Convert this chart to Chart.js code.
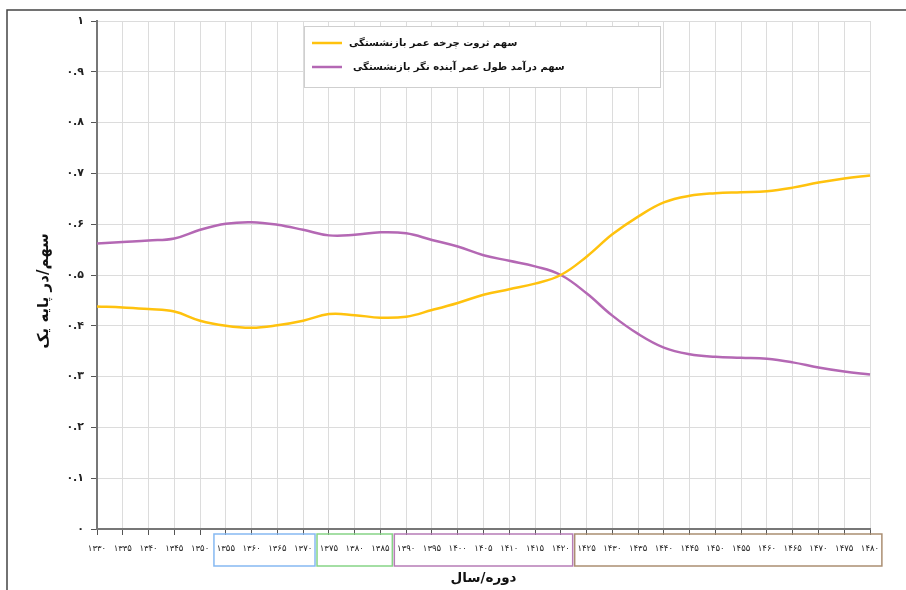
<!DOCTYPE html>
<html>
<head>
<meta charset="utf-8">
<script src="https://cdn.jsdelivr.net/npm/chart.js@4.4.1/dist/chart.umd.min.js"></script>
<style>
  html, body { margin: 0; padding: 0; background: #fff; }
  #wrap { width: 906px; height: 590px; }
</style>
</head>
<body>
<div id="wrap"><canvas id="shareChart" width="906" height="590"></canvas></div>
<script>
// categories (years, solar hijri)
const years = [1330, 1335, 1340, 1345, 1350, 1355, 1360, 1365, 1370, 1375, 1380,
               1385, 1390, 1395, 1400, 1405, 1410, 1415, 1420, 1425, 1430,
               1435, 1440, 1445, 1450, 1455, 1460, 1465, 1470, 1475, 1480];

// series values
const wealthShare = [0.438, 0.436, 0.433, 0.428, 0.410, 0.400, 0.396, 0.401, 0.410, 0.423, 0.421,
                     0.416, 0.418, 0.431, 0.445, 0.461, 0.472, 0.483, 0.500, 0.536, 0.580,
                     0.615, 0.643, 0.656, 0.661, 0.663, 0.665, 0.672, 0.682, 0.690, 0.696];
const incomeShare = [0.562, 0.565, 0.568, 0.572, 0.589, 0.601, 0.604, 0.599, 0.589, 0.578, 0.579,
                     0.584, 0.582, 0.569, 0.556, 0.539, 0.528, 0.517, 0.500, 0.464, 0.420,
                     0.384, 0.357, 0.344, 0.339, 0.337, 0.335, 0.328, 0.318, 0.310, 0.304];

const seriesNames = ['سهم ثروت چرخه عمر بازنشستگی', 'سهم درآمد طول عمر آینده نگر بازنشستگی'];
const seriesColors = ['#ffc20e', '#b468b4'];

// label groups boxed under the x axis
const groupFirst = [1355, 1375, 1390, 1425];
const groupLast  = [1370, 1385, 1420, 1480];
const groupColors = ['#86b9f2', '#86d486', '#b67cb6', '#ab8e72'];

const xTitle = 'دوره/سال';
const yTitle = 'سهم/در پایه یک';

const faDigits = '۰۱۲۳۴۵۶۷۸۹';
function toFa(s) {
    return String(s).replace(/[0-9]/g, d => faDigits[+d]);
}

const FONT = "'DejaVu Sans', sans-serif";

// extra drawing: frame, label boxes, legend, y title
const decorPlugin = {
    id: 'decor',
    beforeDraw(chart) {
        const ctx = chart.ctx;
        ctx.save();
        ctx.fillStyle = '#fff';
        ctx.fillRect(0, 0, chart.width, chart.height);
        ctx.restore();
    },
    afterDraw(chart) {
        const ctx = chart.ctx;
        const area = chart.chartArea;
        const xs = chart.scales.x;
        ctx.save();

        // outer frame (top and left edges)
        ctx.strokeStyle = '#444';
        ctx.lineWidth = 1.5;
        ctx.beginPath();
        ctx.moveTo(7, chart.height);
        ctx.lineTo(7, 10);
        ctx.lineTo(chart.width, 10);
        ctx.stroke();

        // coloured boxes round groups of year labels
        ctx.lineWidth = 1.5;
        for (let g = 0; g < groupFirst.length; g++) {
            const i0 = years.indexOf(groupFirst[g]);
            const i1 = years.indexOf(groupLast[g]);
            const left = xs.getPixelForValue(i0 - 0.5) + 1;
            const right = xs.getPixelForValue(i1 + 0.5) - 1;
            ctx.strokeStyle = groupColors[g];
            ctx.strokeRect(left, area.bottom + 5, right - left, 32);
        }

        // legend box
        const lx = 304, ly = 26, lw = 356, lh = 61;
        ctx.fillStyle = '#fff';
        ctx.fillRect(lx, ly, lw, lh);
        ctx.strokeStyle = '#cfcfcf';
        ctx.lineWidth = 1;
        ctx.strokeRect(lx + 0.5, ly + 0.5, lw, lh);
        chart.data.datasets.forEach((ds, i) => {
            const yy = ly + 17 + i * 24;
            ctx.strokeStyle = ds.borderColor;
            ctx.lineWidth = 2.5;
            ctx.beginPath();
            ctx.moveTo(lx + 8, yy);
            ctx.lineTo(lx + 38, yy);
            ctx.stroke();
            ctx.fillStyle = '#111';
            ctx.font = 'bold 10px ' + FONT;
            ctx.textAlign = 'left';
            ctx.textBaseline = 'middle';
            ctx.fillText(ds.label, lx + 45 + i * 4, yy);
        });

        // y axis title
        ctx.translate(44, 291);
        ctx.rotate(-Math.PI / 2);
        ctx.fillStyle = '#111';
        ctx.font = 'bold 15px ' + FONT;
        ctx.textAlign = 'center';
        ctx.textBaseline = 'middle';
        ctx.fillText(yTitle, 0, 0);

        ctx.restore();
    }
};

document.addEventListener('DOMContentLoaded', function() {
    const ctx = document.getElementById('shareChart').getContext('2d');

    new Chart(ctx, {
        type: 'line',
        data: {
            labels: years.map(toFa),
            datasets: [{
                label: seriesNames[0],
                data: wealthShare,
                borderColor: seriesColors[0],
                backgroundColor: seriesColors[0],
                borderWidth: 2.5,
                pointRadius: 0,
                tension: 0.4,
                fill: false
            }, {
                label: seriesNames[1],
                data: incomeShare,
                borderColor: seriesColors[1],
                backgroundColor: seriesColors[1],
                borderWidth: 2.5,
                pointRadius: 0,
                tension: 0.4,
                fill: false
            }]
        },
        options: {
            responsive: false,
            animation: false,
            layout: { padding: { top: 21, right: 36, left: 0, bottom: 0 } },
            plugins: {
                legend: { display: false },
                tooltip: { enabled: false }
            },
            scales: {
                x: {
                    afterFit(scale) { scale.height = 61; },
                    grid: { color: '#dcdcdc', lineWidth: 1, tickColor: '#555', tickLength: 6 },
                    border: { color: '#777', width: 2 },
                    ticks: {
                        autoSkip: false,
                        maxRotation: 0,
                        minRotation: 0,
                        padding: 9,
                        color: '#222',
                        font: { family: FONT, size: 8.5 }
                    },
                    title: {
                        display: true,
                        text: xTitle,
                        color: '#111',
                        font: { family: FONT, size: 13.5, weight: 'bold' },
                        padding: { top: 0, bottom: 3 }
                    }
                },
                y: {
                    min: 0,
                    max: 1,
                    afterFit(scale) { scale.width = 97; },
                    grid: { color: '#dcdcdc', lineWidth: 1, tickColor: '#555', tickLength: 6 },
                    border: { color: '#777', width: 2 },
                    ticks: {
                        stepSize: 0.1,
                        padding: 7,
                        color: '#222',
                        font: { family: FONT, size: 11, weight: 'bold' },
                        callback: function(v) {
                            const s = (v === 0 || v === 1) ? String(v) : v.toFixed(1);
                            return toFa(s);
                        }
                    }
                }
            }
        },
        plugins: [decorPlugin]
    });
});
</script>
</body>
</html>
